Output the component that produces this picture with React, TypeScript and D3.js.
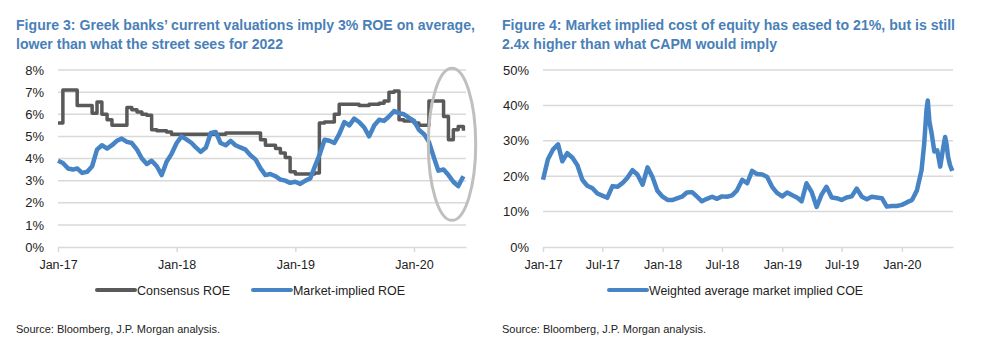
import * as d3 from "d3";
import { useEffect, useRef } from "react";

// semi-monthly observation dates, Jan-17 .. Jun-20
const roeDates = [
    "2017-01-01", "2017-01-16", "2017-02-01", "2017-02-16", "2017-03-01", "2017-03-16", "2017-04-01", "2017-04-16",
    "2017-05-01", "2017-05-16", "2017-06-01", "2017-06-16", "2017-07-01", "2017-07-16", "2017-08-01", "2017-08-16",
    "2017-09-01", "2017-09-16", "2017-10-01", "2017-10-16", "2017-11-01", "2017-11-16", "2017-12-01", "2017-12-16",
    "2018-01-01", "2018-01-16", "2018-02-01", "2018-02-16", "2018-03-01", "2018-03-16", "2018-04-01", "2018-04-16",
    "2018-05-01", "2018-05-16", "2018-06-01", "2018-06-16", "2018-07-01", "2018-07-16", "2018-08-01", "2018-08-16",
    "2018-09-01", "2018-09-16", "2018-10-01", "2018-10-16", "2018-11-01", "2018-11-16", "2018-12-01", "2018-12-16",
    "2019-01-01", "2019-01-16", "2019-02-01", "2019-02-16", "2019-03-01", "2019-03-16", "2019-04-01", "2019-04-16",
    "2019-05-01", "2019-05-16", "2019-06-01", "2019-06-16", "2019-07-01", "2019-07-16", "2019-08-01", "2019-08-16",
    "2019-09-01", "2019-09-16", "2019-10-01", "2019-10-16", "2019-11-01", "2019-11-16", "2019-12-01", "2019-12-16",
    "2020-01-01", "2020-01-16", "2020-02-01", "2020-02-16", "2020-03-01", "2020-03-16", "2020-04-01", "2020-04-16",
    "2020-05-01", "2020-05-16", "2020-06-01",
];

// Figure 3, % values
const consensusRoe = [
    5.6, 7.1, 7.1, 7.1, 6.4, 6.4, 6.4, 6.05, 6.55, 6.0, 5.75, 5.5, 5.5, 5.5, 6.3, 6.2,
    6.1, 6.0, 5.95, 5.3, 5.25, 5.25, 5.2, 5.1, 5.1, 5.1, 5.1, 5.1, 5.1, 5.1, 5.1, 5.1,
    5.1, 5.1, 5.15, 5.15, 5.15, 5.15, 5.15, 5.15, 5.15, 4.85, 4.6, 4.6, 4.45, 4.25, 4.05, 3.4,
    3.3, 3.3, 3.3, 3.3, 3.35, 5.6, 5.65, 5.65, 6.0, 6.45, 6.45, 6.45, 6.45, 6.4, 6.4, 6.45,
    6.45, 6.5, 6.6, 7.0, 7.05, 5.75, 5.7, 5.7, 5.6, 5.5, 5.5, 6.6, 6.6, 6.6, 5.9, 4.85,
    5.3, 5.45, 5.25,
];
const marketRoe = [
    3.9, 3.8, 3.55, 3.5, 3.55, 3.35, 3.4, 3.65, 4.4, 4.6, 4.45, 4.6, 4.8, 4.9, 4.75, 4.7,
    4.4, 4.0, 3.75, 3.9, 3.65, 3.25, 3.85, 4.2, 4.7, 5.0, 4.85, 4.7, 4.5, 4.3, 4.5, 5.15,
    5.2, 4.7, 4.6, 4.8, 4.6, 4.5, 4.4, 4.15, 3.95, 3.55, 3.25, 3.3, 3.2, 3.05, 3.0, 2.9,
    2.95, 2.85, 3.0, 3.1, 3.6, 4.15, 4.85, 4.8, 4.7, 5.1, 5.65, 5.5, 5.8, 5.65, 5.4, 5.0,
    5.5, 5.75, 5.7, 5.9, 6.15, 6.05, 6.0, 5.85, 5.7, 5.3, 5.1, 4.75, 4.1, 3.45, 3.5, 3.25,
    2.95, 2.75, 3.2,
];

// Figure 4: same grid up to mid-Feb 2020, then denser around the spike
const coeDates = roeDates.slice(0, 76).concat([
    "2020-03-01", "2020-03-09", "2020-03-16", "2020-03-20", "2020-03-25", "2020-04-01", "2020-04-09", "2020-04-18",
    "2020-04-27", "2020-05-06", "2020-05-12", "2020-05-16", "2020-05-21", "2020-05-27", "2020-06-03",
]);
const impliedCoe = [
    19.0, 24.8, 27.6, 29.0, 24.2, 26.5, 25.2, 23.1, 19.0, 17.3, 16.6, 15.1, 14.5, 13.9, 17.2, 17.0,
    18.1, 19.6, 21.7, 20.5, 17.6, 22.5, 19.8, 15.9, 14.2, 13.3, 13.3, 13.8, 14.2, 15.4, 15.5, 14.2,
    12.9, 13.6, 14.2, 13.6, 14.3, 14.2, 14.6, 16.0, 19.0, 18.0, 21.5, 20.6, 20.5, 19.8, 17.0, 15.3,
    14.3, 15.4, 14.6, 13.9, 12.9, 18.0, 15.5, 11.3, 14.8, 17.0, 14.0, 13.8, 13.3, 14.0, 14.3, 16.5,
    14.2, 13.5, 14.2, 14.0, 13.8, 11.4, 11.6, 11.6, 11.9, 12.6, 13.3, 16.0,
    21.7, 29.0, 38.6, 41.4, 35.5, 32.0, 27.0, 27.3, 22.7, 28.0, 31.1, 29.2, 25.5, 23.1, 21.5,
];

const roeTicks = [0, 1, 2, 3, 4, 5, 6, 7, 8];
const coeTicks = [0, 10, 20, 30, 40, 50];
const roeXTicks = ["2017-01-01", "2018-01-01", "2019-01-01", "2020-01-01"];
const coeXTicks = ["2017-01-01", "2017-07-01", "2018-01-01", "2018-07-01", "2019-01-01", "2019-07-01", "2020-01-01"];

const parseDate = d3.timeParse("%Y-%m-%d");
const FONT = "'Liberation Sans', Arial, sans-serif";
const GRID = "#d9d9d9";
const BLUE = "#4784c6";
const GREY = "#595959";
const TITLE = "#4a7fb8";

const LineChart = (props) => {
    const ref = useRef(null);

    useEffect(() => {
        const g = d3.select(ref.current);
        g.selectAll("*").remove();

        const top = 70, bottom = 247;
        const x = d3.scaleTime().domain(props.xDomain.map(parseDate)).range(props.xRange);
        const y = d3.scaleLinear().domain([0, d3.max(props.yTicks)]).range([bottom, top]);

        // titles
        props.title.forEach((t, i) => {
            g.append("text")
                .attr("x", props.titleX).attr("y", 29.5 + i * 19.5)
                .attr("textLength", t.w).attr("lengthAdjust", "spacingAndGlyphs")
                .style("font-family", FONT).style("font-size", "14.5px").style("font-weight", "bold")
                .style("fill", TITLE)
                .text(t.text);
        });

        // gridlines + y labels
        g.append("g").selectAll("line")
            .data(props.yTicks.slice(1))
            .join("line")
            .attr("x1", props.xRange[0]).attr("x2", props.xRange[1])
            .attr("y1", d => y(d)).attr("y2", d => y(d))
            .style("stroke", GRID).style("stroke-width", 1.5);

        g.append("g").selectAll("text")
            .data(props.yTicks)
            .join("text")
            .attr("x", props.yLabelX).attr("y", d => y(d)).attr("dy", "0.36em")
            .attr("text-anchor", "end")
            .style("font-family", FONT).style("font-size", "13px").style("fill", "#222")
            .text(d => d + "%");

        const xAxis = d3.axisBottom(x)
            .tickValues(props.xTicks.map(parseDate))
            .tickFormat(d3.timeFormat("%b-%y"))
            .tickSize(5).tickSizeOuter(0).tickPadding(8);
        const ax = g.append("g").attr("transform", `translate(0, ${bottom})`).call(xAxis);
        ax.select(".domain").style("stroke", GRID).style("stroke-width", 1.5);
        ax.selectAll(".tick line").style("stroke", GRID).style("stroke-width", 1.5);
        ax.selectAll(".tick text").style("font-family", FONT).style("font-size", "12.5px").style("fill", "#222");

        // series
        props.series.forEach(s => {
            const pts = s.values.map((v, i) => [parseDate(props.dates[i]), v]);
            const line = d3.line()
                .x(d => x(d[0]))
                .y(d => y(d[1]))
                .curve(s.step ? d3.curveStepAfter : d3.curveLinear);
            g.append("path")
                .datum(pts)
                .attr("d", line)
                .style("fill", "none").style("stroke", s.color).style("stroke-width", s.width)
                .style("stroke-linejoin", "round");
        });

        // highlight ellipse
        if (props.ellipse) {
            const e = props.ellipse;
            g.append("ellipse")
                .attr("cx", x(parseDate(e.date))).attr("cy", y(e.value))
                .attr("rx", e.rx).attr("ry", e.ry)
                .style("fill", "none").style("stroke", "#bfbfbf").style("stroke-width", 3);
        }

        // legend
        props.series.forEach(s => {
            g.append("line")
                .attr("x1", s.legendX).attr("x2", s.legendX + 38)
                .attr("y1", 290).attr("y2", 290)
                .style("stroke", s.color).style("stroke-width", 4).style("stroke-linecap", "round");
            g.append("text")
                .attr("x", s.legendX + 40).attr("y", 295)
                .attr("textLength", s.legendW).attr("lengthAdjust", "spacingAndGlyphs")
                .style("font-family", FONT).style("font-size", "13.5px").style("fill", "#222")
                .text(s.name);
        });

        g.append("text")
            .attr("x", props.titleX).attr("y", 333)
            .attr("textLength", 204).attr("lengthAdjust", "spacingAndGlyphs")
            .style("font-family", FONT).style("font-size", "10.5px").style("fill", "#222")
            .text("Source: Bloomberg, J.P. Morgan analysis.");
    }, [props]);

    return <g ref={ref} />;
};

export default function App() {
    useEffect(() => {
        document.body.style.margin = "0";
    }, []);

    return (
        <svg width={999} height={354} style={{ display: "block", background: "#fff" }}>
            <LineChart
                title={[
                    { text: "Figure 3: Greek banks\u2019 current valuations imply 3% ROE on average,", w: 459 },
                    { text: "lower than what the street sees for 2022", w: 267 },
                ]}
                titleX={16}
                xDomain={["2017-01-01", "2020-06-09"]}
                xRange={[58, 466]}
                yLabelX={44}
                yTicks={roeTicks}
                xTicks={roeXTicks}
                dates={roeDates}
                series={[
                    { name: "Consensus ROE", values: consensusRoe, color: GREY, width: 3.5, step: true, legendX: 97, legendW: 93 },
                    { name: "Market-implied ROE", values: marketRoe, color: BLUE, width: 4.5, step: false, legendX: 253, legendW: 112 },
                ]}
                ellipse={{ date: "2020-04-27", value: 4.64, rx: 23.7, ry: 76 }}
            />
            <LineChart
                title={[
                    { text: "Figure 4: Market implied cost of equity has eased to 21%, but is still", w: 453 },
                    { text: "2.4x higher than what CAPM would imply", w: 275 },
                ]}
                titleX={502}
                xDomain={["2017-01-01", "2020-06-05"]}
                xRange={[543, 953]}
                yLabelX={529}
                yTicks={coeTicks}
                xTicks={coeXTicks}
                dates={coeDates}
                series={[
                    { name: "Weighted average market implied COE", values: impliedCoe, color: BLUE, width: 4.5, step: false, legendX: 609, legendW: 214 },
                ]}
            />
        </svg>
    );
}
